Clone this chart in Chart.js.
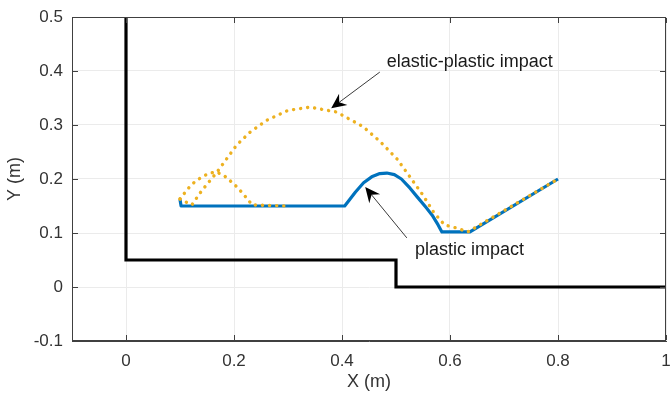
<!DOCTYPE html>
<html>
<head>
<meta charset="utf-8">
<script src="https://cdn.jsdelivr.net/npm/chart.js@4"></script>
<style>
  html, body { margin: 0; padding: 0; background: #fff; }
  #wrap { width: 670px; height: 394px; position: relative; }
</style>
</head>
<body>
<div id="wrap"><canvas id="chartTraj"></canvas></div>
<script>
// trajectory data (metres)
const wallX = [0, 0, 0.5, 0.5, 1];
const wallY = [0.5, 0.05, 0.05, 0, 0];

const plasticX = [0.1, 0.102, 0.405, 0.415, 0.425, 0.44, 0.455, 0.47, 0.483, 0.497, 0.51, 0.526, 0.54, 0.555, 0.567, 0.578, 0.585, 0.637, 0.8];
const plasticY = [0.162, 0.15, 0.15, 0.163, 0.176, 0.193, 0.204, 0.21, 0.211, 0.208, 0.2, 0.183, 0.166, 0.148, 0.133, 0.115, 0.102, 0.102, 0.2];

const elasticX = [0.1, 0.122, 0.14, 0.168, 0.205, 0.23, 0.261, 0.3, 0.341, 0.39, 0.439, 0.47, 0.502, 0.525, 0.55, 0.57, 0.59, 0.613, 0.633, 0.8];
const elasticY = [0.163, 0.152, 0.178, 0.212, 0.263, 0.287, 0.309, 0.327, 0.333, 0.324, 0.297, 0.27, 0.237, 0.205, 0.17, 0.138, 0.115, 0.109, 0.102, 0.2];

const bounceX = [0.1, 0.11, 0.119, 0.13, 0.143, 0.155, 0.168, 0.182, 0.196, 0.207, 0.217, 0.226, 0.233, 0.3];
const bounceY = [0.163, 0.176, 0.187, 0.197, 0.205, 0.211, 0.213, 0.206, 0.194, 0.184, 0.172, 0.162, 0.152, 0.15];

const xTicks = [0, 0.2, 0.4, 0.6, 0.8, 1];
const yTicks = [-0.1, 0, 0.1, 0.2, 0.3, 0.4, 0.5];

// labels with arrow tail/head in data units
const notes = [
  { text: 'elastic-plastic impact', tx: 0.483, ty: 0.417, from: [0.47, 0.398], to: [0.38, 0.331] },
  { text: 'plastic impact', tx: 0.535, ty: 0.068, from: [0.52, 0.091], to: [0.443, 0.185] }
];

const toPts = (xs, ys) => xs.map((x, i) => ({ x: x, y: ys[i] }));

const BLUE = '#0072BD';
const GOLD = '#EDB120';
const AXIS = '#404040';
const FONT = '"Liberation Sans", Arial, sans-serif';

function drawArrow(ctx, x1, y1, x2, y2) {
  const ang = Math.atan2(y2 - y1, x2 - x1);
  const len = 15, half = 7, back = 10;
  ctx.save();
  ctx.setLineDash([]);
  ctx.strokeStyle = '#3a3a3a';
  ctx.lineWidth = 1;
  ctx.beginPath();
  ctx.moveTo(x1, y1);
  ctx.lineTo(x2 - Math.cos(ang) * back, y2 - Math.sin(ang) * back);
  ctx.stroke();
  ctx.translate(x2, y2);
  ctx.rotate(ang);
  ctx.fillStyle = '#000';
  ctx.beginPath();
  ctx.moveTo(0, 0);
  ctx.lineTo(-len, -half);
  ctx.lineTo(-back, 0);
  ctx.lineTo(-len, half);
  ctx.closePath();
  ctx.fill();
  ctx.restore();
}

const boxPlugin = {
  id: 'boxAndNotes',
  afterDraw(chart) {
    const ctx = chart.ctx;
    const sx = chart.scales.x, sy = chart.scales.y;
    const L = Math.round(sx.left), R = Math.round(sx.right);
    const T = Math.round(sy.top), B = Math.round(sy.bottom);
    ctx.save();
    ctx.fillStyle = AXIS;
    // axes box
    ctx.fillRect(L, T, R - L, 1);
    ctx.fillRect(L, B - 1, R - L, 1);
    ctx.fillRect(L, T, 1, B - T);
    ctx.fillRect(R - 1, T, 1, B - T);
    // inward tick marks on all four sides
    xTicks.forEach(v => {
      const px = Math.round(sx.getPixelForValue(v));
      ctx.fillRect(px, B - 6, 1, 5);
      ctx.fillRect(px, T + 1, 1, 5);
    });
    yTicks.forEach(v => {
      const py = Math.round(sy.getPixelForValue(v));
      ctx.fillRect(L + 1, py, 5, 1);
      ctx.fillRect(R - 6, py, 5, 1);
    });

    notes.forEach(n => {
      drawArrow(ctx,
        sx.getPixelForValue(n.from[0]), sy.getPixelForValue(n.from[1]),
        sx.getPixelForValue(n.to[0]), sy.getPixelForValue(n.to[1]));
      ctx.fillStyle = '#1a1a1a';
      ctx.font = '18px ' + FONT;
      ctx.textAlign = 'left';
      ctx.textBaseline = 'middle';
      ctx.fillText(n.text, sx.getPixelForValue(n.tx), sy.getPixelForValue(n.ty));
    });
    ctx.restore();
  }
};

const tickFmt = v => String(Math.round(v * 10) / 10);

new Chart(document.getElementById('chartTraj').getContext('2d'), {
  type: 'scatter',
  data: {
    datasets: [
      {
        data: toPts(elasticX, elasticY), order: 0,
        showLine: true, borderColor: GOLD, borderWidth: 3.4,
        borderDash: [0.1, 7], borderCapStyle: 'round',
        pointRadius: 0, tension: 0
      },
      {
        data: toPts(bounceX, bounceY), order: 0,
        showLine: true, borderColor: GOLD, borderWidth: 3.4,
        borderDash: [0.1, 7], borderCapStyle: 'round',
        pointRadius: 0, tension: 0
      },
      {
        data: toPts(plasticX, plasticY), order: 1,
        showLine: true, borderColor: BLUE, borderWidth: 3.2,
        pointRadius: 0, tension: 0, borderJoinStyle: 'round'
      },
      {
        data: toPts(wallX, wallY), order: 2,
        showLine: true, borderColor: '#000', borderWidth: 3.2,
        pointRadius: 0, tension: 0, borderJoinStyle: 'miter'
      }
    ]
  },
  options: {
    responsive: true,
    maintainAspectRatio: false,
    animation: false,
    layout: { padding: { top: 17, right: 4, left: 0, bottom: 0 } },
    plugins: { legend: { display: false }, tooltip: { enabled: false } },
    scales: {
      x: {
        type: 'linear', min: -0.1, max: 1,
        afterBuildTicks: axis => { axis.ticks = xTicks.map(v => ({ value: v })); },
        afterFit: axis => { axis.height = 53; axis.paddingRight = 0; axis.paddingLeft = 0; },
        ticks: { color: '#333', font: { family: FONT, size: 17 }, padding: 10, callback: tickFmt, maxRotation: 0 },
        grid: { color: '#ebebeb', drawTicks: false },
        border: { display: true, color: AXIS },
        title: { display: true, text: 'X (m)', color: '#333', font: { family: FONT, size: 18 }, padding: { top: 0, bottom: 1 } }
      },
      y: {
        type: 'linear', min: -0.1, max: 0.5,
        afterBuildTicks: axis => { axis.ticks = yTicks.map(v => ({ value: v })); },
        afterFit: axis => { axis.width = 72; axis.paddingTop = 0; axis.paddingBottom = 0; },
        ticks: { color: '#333', font: { family: FONT, size: 17 }, padding: 9, callback: tickFmt },
        grid: { color: '#ebebeb', drawTicks: false },
        border: { display: true, color: AXIS },
        title: { display: true, text: 'Y (m)', color: '#333', font: { family: FONT, size: 18 }, padding: { top: 4, bottom: 0 } }
      }
    }
  },
  plugins: [boxPlugin]
});
</script>
</body>
</html>
